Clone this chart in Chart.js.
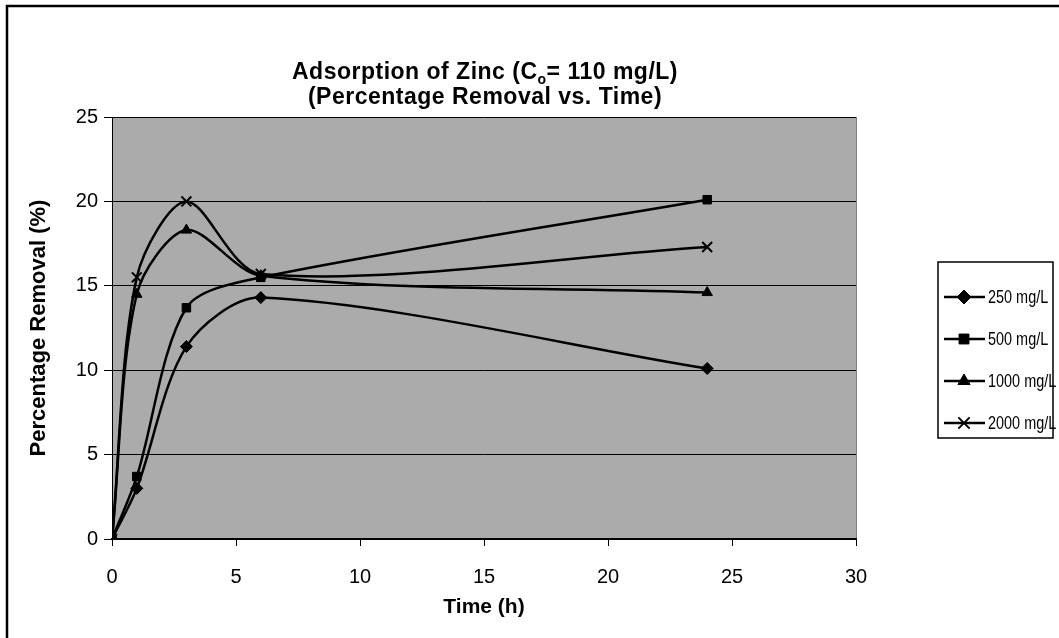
<!DOCTYPE html>
<html>
<head>
<meta charset="utf-8">
<script src="https://cdn.jsdelivr.net/npm/chart.js@4/dist/chart.umd.min.js"></script>
<style>
  body { margin: 0; background: #fff; }
  #wrap { width: 1059px; height: 638px; }
</style>
</head>
<body>
<div id="wrap"><canvas id="grafico" width="1059" height="638"></canvas></div>
<script>
// tempos de amostragem (h)
const tempos = [0, 1, 3, 6, 24];

// remoção percentual por dose de adsorvente
const rem250 = [0, 3.0, 11.4, 14.3, 10.1];
const rem500 = [0, 3.7, 13.7, 15.5, 20.1];
const rem1000 = [0, 14.5, 18.3, 15.6, 14.6];
const rem2000 = [0, 15.5, 20.0, 15.7, 17.3];

const rotulos = ['250 mg/L', '500 mg/L', '1000 mg/L', '2000 mg/L'];
const estilos = ['rectRot', 'rect', 'triangle', 'crossRot'];

const ticksX = [0, 5, 10, 15, 20, 25, 30];
const ticksY = [0, 5, 10, 15, 20, 25];

const fonte = 'Arial, "Liberation Sans", sans-serif';

function serie(valores, i) {
  return {
    label: rotulos[i],
    data: tempos.map((t, k) => ({ x: t, y: valores[k] })),
    showLine: true,
    borderColor: '#000',
    backgroundColor: '#000',
    borderWidth: 2.5,
    tension: 0.3,
    pointStyle: estilos[i],
    pointRadius: estilos[i] === 'crossRot' ? 7 : 6,
    pointBorderWidth: estilos[i] === 'crossRot' ? 2 : 1,
    pointBorderColor: '#000',
    pointBackgroundColor: '#000'
  };
}

// fundo cinza da área de plotagem e moldura externa
const fundo = {
  id: 'fundo',
  beforeDraw(chart) {
    const { ctx, chartArea: a } = chart;
    ctx.save();
    ctx.fillStyle = '#ababab';
    ctx.fillRect(a.left, a.top, a.right - a.left, a.bottom - a.top);
    ctx.strokeStyle = '#808080';
    ctx.lineWidth = 1;
    ctx.strokeRect(a.left + 0.5, a.top + 0.5, a.right - a.left, a.bottom - a.top);
    ctx.strokeStyle = '#000';
    ctx.lineWidth = 2.5;
    ctx.beginPath();
    ctx.moveTo(7, 640);
    ctx.lineTo(7, 6);
    ctx.lineTo(1060, 6);
    ctx.stroke();
    ctx.restore();
  }
};

// título em duas linhas, com subscrito
const titulo = {
  id: 'titulo',
  afterDraw(chart) {
    const ctx = chart.ctx;
    ctx.save();
    ctx.fillStyle = '#000';
    ctx.textBaseline = 'middle';
    ctx.letterSpacing = '0.5px';
    const cx = 485;
    const f = 'bold 23px ' + fonte;
    const fs = 'bold 14px ' + fonte;
    const p1 = 'Adsorption of Zinc (C', p2 = 'o', p3 = '= 110 mg/L)';
    ctx.font = f;
    const w1 = ctx.measureText(p1).width, w3 = ctx.measureText(p3).width;
    ctx.font = fs;
    const w2 = ctx.measureText(p2).width;
    let x = cx - (w1 + w2 + w3) / 2;
    ctx.textAlign = 'left';
    ctx.font = f;
    ctx.fillText(p1, x, 73);
    x += w1;
    ctx.font = fs;
    ctx.fillText(p2, x, 80);
    x += w2;
    ctx.font = f;
    ctx.fillText(p3, x, 73);
    ctx.textAlign = 'center';
    ctx.fillText('(Percentage Removal vs. Time)', cx, 98);
    ctx.restore();
  }
};

// legenda com caixa à direita
const legenda = {
  id: 'legenda',
  afterDraw(chart) {
    const ctx = chart.ctx;
    const bx = 938, by = 262, bw = 115, bh = 176;
    ctx.save();
    ctx.fillStyle = '#fff';
    ctx.fillRect(bx, by, bw, bh);
    ctx.strokeStyle = '#000';
    ctx.lineWidth = 1.5;
    ctx.strokeRect(bx, by, bw, bh);
    chart.data.datasets.forEach((ds, i) => {
      const y = 297 + i * 42;
      ctx.strokeStyle = '#000';
      ctx.lineWidth = 2.5;
      ctx.beginPath();
      ctx.moveTo(944, y);
      ctx.lineTo(985, y);
      ctx.stroke();
      ctx.fillStyle = '#000';
      ctx.lineWidth = ds.pointBorderWidth;
      Chart.helpers.drawPoint(ctx, {
        pointStyle: ds.pointStyle,
        radius: ds.pointRadius + 1,
        rotation: 0,
        borderWidth: ds.pointBorderWidth
      }, 964, y);
      // texto comprimido na horizontal para caber na caixa
      ctx.save();
      ctx.translate(988, y + 1);
      ctx.scale(0.76, 1);
      ctx.font = '19px ' + fonte;
      ctx.textAlign = 'left';
      ctx.textBaseline = 'middle';
      ctx.fillStyle = '#000';
      ctx.fillText(ds.label, 0, 0);
      ctx.restore();
    });
    ctx.restore();
  }
};

new Chart(document.getElementById('grafico').getContext('2d'), {
  type: 'scatter',
  data: {
    datasets: [serie(rem250, 0), serie(rem500, 1), serie(rem1000, 2), serie(rem2000, 3)]
  },
  options: {
    responsive: false,
    animation: false,
    layout: { padding: { left: 0, right: 203, top: 117, bottom: 0 } },
    plugins: {
      legend: { display: false },
      tooltip: { enabled: false }
    },
    scales: {
      x: {
        type: 'linear',
        min: 0,
        max: 30,
        afterBuildTicks(s) { s.ticks = ticksX.map(v => ({ value: v })); },
        afterFit(s) { s.height = 99; },
        grid: { drawOnChartArea: false, drawTicks: true, tickLength: 7, color: '#000', lineWidth: 1 },
        border: { color: '#000', width: 1.5 },
        ticks: { color: '#000', padding: 19, font: { family: fonte, size: 20 } },
        title: {
          display: true,
          text: 'Time (h)',
          color: '#000',
          font: { family: fonte, size: 21, weight: 'bold' },
          padding: { top: 0, bottom: 18 }
        }
      },
      y: {
        min: 0,
        max: 25,
        afterBuildTicks(s) { s.ticks = ticksY.map(v => ({ value: v })); },
        afterFit(s) { s.width = 112; },
        grid: { color: '#000', lineWidth: 1, tickLength: 8, drawTicks: true },
        border: { color: '#000', width: 1 },
        ticks: { color: '#000', padding: 6, font: { family: fonte, size: 20 } },
        title: {
          display: true,
          text: 'Percentage Removal (%)',
          color: '#000',
          font: { family: fonte, size: 22, weight: 'bold' },
          padding: { top: 26, bottom: 0 }
        }
      }
    }
  },
  plugins: [fundo, titulo, legenda]
});
</script>
</body>
</html>
